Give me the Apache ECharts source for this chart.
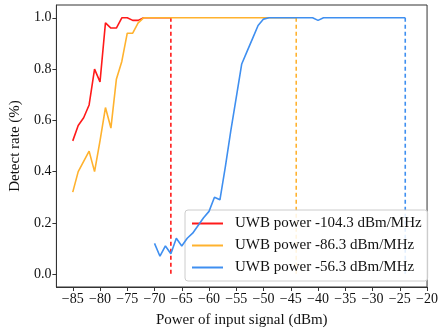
<!DOCTYPE html>
<html>
<head>
<meta charset="utf-8">
<script src="https://cdn.jsdelivr.net/npm/echarts@6/dist/echarts.min.js"></script>
<style>
  html, body { margin: 0; padding: 0; background: #fff; }
  #main { width: 441px; height: 333px; }
</style>
</head>
<body>
<div id="main"></div>
<script>
// 数据
var redX = [-85, -84, -83, -82, -81, -80, -79, -78, -77, -76, -75, -74, -73, -72, -71, -70, -69, -68, -67];
var redY = [0.52, 0.58, 0.61, 0.66, 0.80, 0.75, 0.98, 0.96, 0.96, 1.0, 1.0, 0.99, 0.99, 1.0, 1.0, 1.0, 1.0, 1.0, 1.0];

var orangeX = [-85, -84, -83, -82, -81, -80, -79, -78, -77, -76, -75, -74, -73, -72, -60, -44];
var orangeY = [0.32, 0.40, 0.44, 0.48, 0.40, 0.52, 0.65, 0.57, 0.76, 0.83, 0.94, 0.94, 0.98, 1.0, 1.0, 1.0];

var blueX = [-70, -69, -68, -67, -66, -65, -64, -63, -62, -61, -60, -59, -58, -57, -56, -55, -54, -53, -52, -51, -50, -49, -41, -40, -39, -24];
var blueY = [0.12, 0.07, 0.11, 0.08, 0.14, 0.11, 0.14, 0.16, 0.19, 0.22, 0.245, 0.30, 0.29, 0.42, 0.56, 0.69, 0.82, 0.87, 0.92, 0.97, 0.995, 1.0, 1.0, 0.99, 1.0, 1.0];

// 每条曲线末端的竖虚线位置
var cutoffX = [-67, -44, -24];

var seriesNames = ['UWB power -104.3 dBm/MHz', 'UWB power -86.3 dBm/MHz', 'UWB power -56.3 dBm/MHz'];
var colors = ['#ff1a1a', '#ffb22e', '#3f8ff0'];

var xTicks = [-85, -80, -75, -70, -65, -60, -55, -50, -45, -40, -35, -30, -25, -20];
var yTicks = [0, 0.2, 0.4, 0.6, 0.8, 1.0];

function zip(xs, ys) {
    var out = [];
    for (var i = 0; i < xs.length; i++) out.push([xs[i], ys[i]]);
    return out;
}

var font = 'Liberation Serif';
var allX = [redX, orangeX, blueX];
var allY = [redY, orangeY, blueY];

var series = [];
for (var i = 0; i < 3; i++) {
    series.push({
        name: seriesNames[i],
        type: 'line',
        data: zip(allX[i], allY[i]),
        showSymbol: false,
        lineStyle: { color: colors[i], width: 1.6 },
        itemStyle: { color: colors[i] },
        z: 2 + i
    });
}
for (var j = 0; j < 3; j++) {
    series.push({
        type: 'line',
        data: [[cutoffX[j], 1.0], [cutoffX[j], 0]],
        showSymbol: false,
        lineStyle: { color: colors[j], width: 1.6, type: [4, 3] },
        z: 2
    });
}

var myChart = echarts.init(document.getElementById('main'));
var option = {
    animation: false,
    backgroundColor: '#fff',
    grid: {
        left: 54, right: 6, top: 5, bottom: 46,
        show: true, borderColor: '#333', borderWidth: 1, backgroundColor: 'transparent'
    },
    legend: {
        data: seriesNames,
        orient: 'vertical',
        left: 185, top: 210,
        padding: [6, 6, 6, 7],
        itemGap: 7,
        itemWidth: 31,
        itemHeight: 2,
        icon: 'rect',
        backgroundColor: 'rgba(255,255,255,0.85)',
        borderColor: '#cccccc',
        borderWidth: 1,
        borderRadius: 3,
        textStyle: { fontFamily: font, fontSize: 15, color: '#111', padding: [0, 0, 0, 7] }
    },
    xAxis: {
        type: 'value',
        min: -88, max: -20,
        name: 'Power of input signal (dBm)',
        nameLocation: 'middle',
        nameGap: 26,
        nameTextStyle: { fontFamily: font, fontSize: 15, color: '#111' },
        splitLine: { show: false },
        axisLine: { show: true, onZero: false, lineStyle: { color: '#333' } },
        axisTick: { show: true, length: 4, customValues: xTicks, lineStyle: { color: '#333' } },
        axisLabel: {
            customValues: xTicks,
            fontFamily: font, fontSize: 14, color: '#111', margin: 5,
            formatter: function (v) { return String(v).replace('-', '\u2212'); }
        }
    },
    yAxis: {
        type: 'value',
        min: -0.05, max: 1.05,
        name: 'Detect rate (%)',
        nameLocation: 'middle',
        nameGap: 31,
        nameRotate: 90,
        nameTextStyle: { fontFamily: font, fontSize: 15, color: '#111' },
        splitLine: { show: false },
        axisLine: { show: true, onZero: false, lineStyle: { color: '#333' } },
        axisTick: { show: true, length: 4, customValues: yTicks, lineStyle: { color: '#333' } },
        axisLabel: {
            customValues: yTicks,
            fontFamily: font, fontSize: 14, color: '#111', margin: 5,
            formatter: function (v) { return v.toFixed(1); }
        }
    },
    series: series
};
myChart.setOption(option);
</script>
</body>
</html>
